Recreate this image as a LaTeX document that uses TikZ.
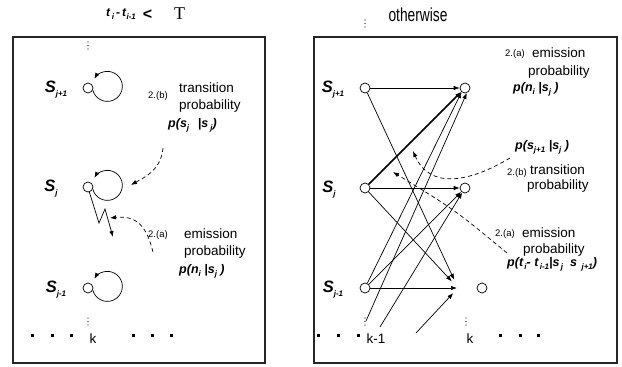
\documentclass[tikz,border=0pt]{standalone}
\usepackage{fontspec}
\setmainfont{Liberation Sans}
\newfontfamily\serifrm{Liberation Serif}
\usetikzlibrary{arrows.meta,positioning}

\newcommand{\bi}[1]{\textbf{\textit{#1}}}
\newcommand{\lowsub}[1]{\raisebox{-0.45ex}{\fontsize{8}{9}\selectfont\bfseries\itshape #1}}

\begin{document}
\begin{tikzpicture}[x=1pt, y=-1pt, >={Latex[length=6pt,width=4.5pt]},
  state/.style={circle, draw, line width=0.7pt, minimum size=10pt, inner sep=0pt},
  link/.style={->, line width=0.7pt},
  boldlink/.style={->, line width=1.7pt},
  hint/.style={->, line width=0.7pt, dash pattern=on 4pt off 3pt},
  frame/.style={line width=1.2pt, draw=black!85},
  slabel/.style={font=\fontsize{16.5}{18}\selectfont\bfseries\itshape, inner sep=0pt},
  txt/.style={font=\fontsize{13.5}{15}\selectfont, inner sep=0pt, anchor=west},
  tag/.style={font=\fontsize{9.5}{10}\selectfont, inner sep=0pt, anchor=west},
  prob/.style={font=\fontsize{12.5}{14}\selectfont\bfseries\itshape, inner sep=0pt, anchor=west}]
  \useasboundingbox (0,0) rectangle (622,367);

  % titles
  \node[inner sep=0pt, anchor=west, font=\fontsize{12}{13}\selectfont] (tdiff) at (106,14)
    {\bi{t}\lowsub{\,i}\,\textbf{-}\,\bi{t}\lowsub{i-1}};
  \node[inner sep=0pt, font=\fontsize{16}{18}\selectfont\bfseries] (tless) at (147.5,15) {<};
  \node[inner sep=0pt, font=\fontsize{18}{20}\selectfont\serifrm] (tbound) at (179.5,14) {T};
  \node[inner sep=0pt, font=\fontsize{14.5}{16}\selectfont] (elsetitle) at (418,15) {\scalebox{0.95}[1.3]{otherwise}};

  % frames
  \draw[frame] (13,37) rectangle (265,363);
  \draw[frame] (314,37) rectangle (617,363);

  % dots
  \foreach \x/\y in {88/42, 365/20, 88/318, 365/318, 466/318}
    \foreach \d in {0,3.5,7}
      \fill (\x,\y+\d) circle (0.7);
  \foreach \x in {32,52,71,133,152,171,318,338,358,500,520,538}
    \fill (\x-1.5,333.5) rectangle ++(3,3);
  \node[inner sep=0pt, font=\fontsize{13.5}{14}\selectfont] (kleft) at (93,339) {k};
  \node[inner sep=0pt, font=\fontsize{13.5}{14}\selectfont] (kprev) at (376,339) {k-1};
  \node[inner sep=0pt, font=\fontsize{13.5}{14}\selectfont] (knext) at (470,339) {k};

  % left: states with self loops
  \foreach \n/\y in {lu/88, lm/187, ld/288} {
    \node[state] (\n) at (88,\y) {};
    \draw[link] (\n.-25) arc[start angle=165, end angle=-150, radius=15];
  }
  \node[slabel] (lsu) at (56,90) {S\lowsub{j+1}};
  \node[slabel] (lsm) at (51,189) {S\lowsub{j}};
  \node[slabel] (lsd) at (56,290) {S\lowsub{j-1}};

  % emission zigzag
  \draw[link] (lm.-75) -- (99,223) -- (105,209) -- (113,237);

  % left notes
  \node[tag] (lb) at (148,96) {2.(b)};
  \node[txt] (lbt) at (179,88) {transition};
  \node[txt] (lbp) at (179,106) {probability};
  \node[prob] (lbf) at (168,125) {p(s\lowsub{j}\hspace{0.7em}|s\,\lowsub{j})};
  \node[tag] (la) at (148,235) {2.(a)};
  \node[txt] (lat) at (184,234) {emission};
  \node[txt] (lap) at (184,252) {probability};
  \node[prob] (laf) at (179,271) {p(n\lowsub{i} |s\lowsub{j} )};
  \coordinate (lbs) at (163,148);
  \coordinate (lbe) at (131,185);
  \coordinate (las) at (153,252);
  \coordinate (lae) at (110,218);
  \draw[hint] (lbs) .. controls (161,170) and (145,177) .. (lbe);
  \draw[hint] (las) .. controls (147,228) and (138,215) .. (lae);

  % right: trellis
  \node[state] (ru) at (365,88) {};
  \node[state] (rm) at (365,188) {};
  \node[state] (rd) at (365,288) {};
  \node[state] (qu) at (465,88) {};
  \node[state] (qm) at (465,188) {};
  \node[state] (qd) at (482,288) {};
  \coordinate (qk) at (458,288);
  \coordinate (ka) at (366,321);
  \coordinate (kb) at (380,327);
  \coordinate (kc) at (416,333);
  \node[slabel] (rsu) at (333,90) {S\lowsub{j+1}};
  \node[slabel] (rsm) at (329,190) {S\lowsub{j}};
  \node[slabel] (rsd) at (333,290) {S\lowsub{j-1}};

  \draw[link] (ru) -- (qu);
  \draw[link, shorten >=9pt] (ru) -- (qk);
  \draw[boldlink] (rm) -- (qu);
  \draw[link] (rm) -- (qm);
  \draw[link, shorten >=9pt] (rm) -- (qk);
  \draw[link] (rd) -- (qm);
  \draw[link] (rd) -- (qu.-130);
  \draw[link, shorten >=1pt] (rd) -- (qk);
  \draw[link] (ka) -- (qu.-70);
  \draw[link] (kb) -- (qm);
  \draw[link, shorten >=7pt] (kc) -- (qk);

  % right notes
  \node[tag] (ra) at (505,54) {2.(a)};
  \node[txt] (rat) at (532,53) {emission};
  \node[txt] (rap) at (528,72) {probability};
  \node[prob] (raf) at (513,89) {p(n\lowsub{i} |s\lowsub{j} )};
  \node[prob] (rbf) at (515,147) {p(s\lowsub{j+1} |s\lowsub{j} )};
  \node[tag] (rb) at (507,173) {2.(b)};
  \node[txt] (rbt) at (530,170) {transition};
  \node[txt] (rbp) at (527,186) {probability};
  \node[tag] (rc) at (495,234) {2.(a)};
  \node[txt] (rct) at (522,233) {emission};
  \node[txt] (rcp) at (523,250) {probability};
  \node[prob] (rcf) at (507,264) {p(t\lowsub{\,i}- t\lowsub{\,i-1}|s\lowsub{\,j}\ \ s\lowsub{\ \ j+1})};
  \coordinate (rbs) at (510,158);
  \coordinate (rbe) at (413,151);
  \coordinate (rcs) at (507,253);
  \coordinate (rce) at (393,172);
  \draw[hint] (rbs) .. controls (470,182) and (430,190) .. (rbe);
  \draw[hint] (rcs) .. controls (455,210) .. (rce);
\end{tikzpicture}
\end{document}
